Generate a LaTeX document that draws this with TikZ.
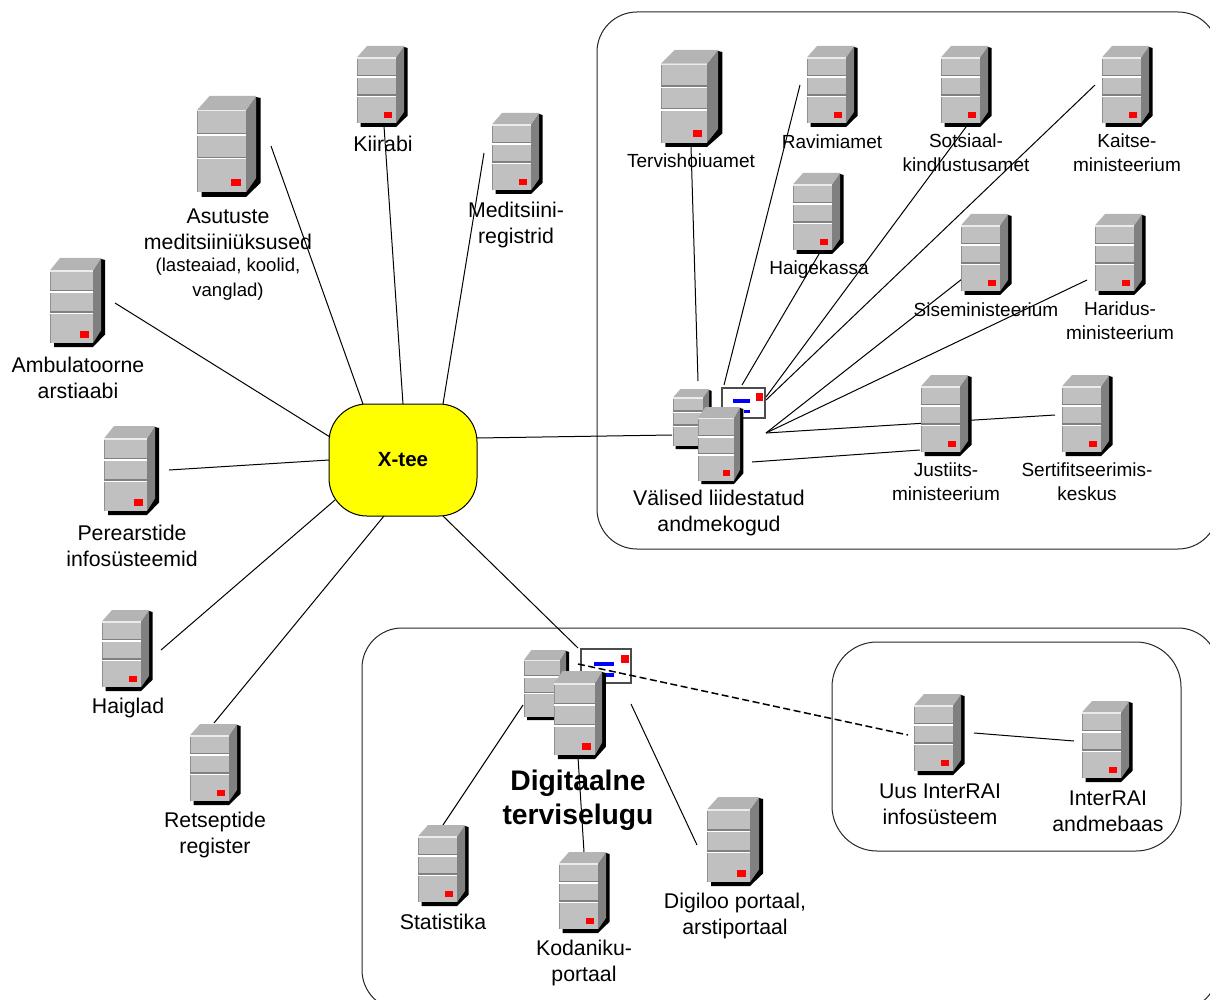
\documentclass[tikz,border=0pt]{standalone}
\usepackage{fontspec}
\setmainfont{Liberation Sans}
\definecolor{srvfront}{HTML}{C0C0C0}
\definecolor{srvtop}{HTML}{B4B4B4}
\definecolor{srvside}{HTML}{808080}
\definecolor{srvedge}{HTML}{909090}
\definecolor{hubfill}{RGB}{255,255,0}
\definecolor{ledred}{RGB}{255,0,0}
\definecolor{barblue}{RGB}{0,0,255}
\tikzset{
  lbl/.style={align=center,inner sep=0pt,font=\fontsize{21.3}{26}\selectfont},
  lblm/.style={align=center,inner sep=0pt,font=\fontsize{19}{24}\selectfont},
  lbls/.style={align=center,inner sep=0pt,font=\fontsize{18.6}{25}\selectfont},
  zone/.style={draw=black!85,line width=1pt,rounded corners=40pt,fill=none},
  link/.style={draw=black,line width=1pt},
}
\def\ledfill{ledred}
% x left, y top, front width, side depth, total height
\newcommand\srv[5]{%
  \begin{scope}[shift={(#1,#2)}]
    \pgfmathsetmacro\W{#3}\pgfmathsetmacro\D{#4}\pgfmathsetmacro\Hh{#5}
    \pgfmathsetmacro\S{0.045*\Hh}
    \pgfmathsetmacro\Top{0.14*\Hh}
    \pgfmathsetmacro\Fh{\Hh-\Top-\S}
    \pgfmathsetmacro\Bot{\Top+\Fh}
    \pgfmathsetmacro\Off{1.25*\D}
    % shadow
    \fill[black] (\W+\D,1) -- (\W+\D+\S,2) -- (\W+\D+\S,\Bot-\Top+\S) -- (\W,\Bot+\S) -- (\S,\Bot+\S) -- (\S,\Bot) -- cycle;
    % side
    \fill[srvside] (\W,\Top) -- (\W+\D,0) -- (\W+\D,\Bot-\Top) -- (\W,\Bot) -- cycle;
    % top
    \fill[srvtop] (0,\Top) -- (\Off,0) -- (\W+\D,0) -- (\W,\Top) -- cycle;
    % front
    \fill[srvfront] (0,\Top) rectangle (\W,\Bot);
    \fill[srvedge] (0,\Top) rectangle (1.2,\Bot);
    \fill[white!92!black] (0,\Top) rectangle (\W,\Top+1.2);
    \pgfmathsetmacro\Da{\Top+0.29*\Fh}\pgfmathsetmacro\Db{\Top+0.58*\Fh}
    \fill[srvside] (0,\Da-1.3) rectangle (\W,\Da);
    \fill[white] (0,\Da) rectangle (\W,\Da+1.6);
    \fill[srvside] (0,\Db-1.3) rectangle (\W,\Db);
    \fill[white] (0,\Db) rectangle (\W,\Db+1.6);
    % led
    \fill[\ledfill] (\W-0.31*\W,\Bot-0.165*\Fh) rectangle (\W-0.10*\W,\Bot-0.075*\Fh);
  \end{scope}}
% x1,y1,x2,y2 card
\newcommand\card[4]{%
  \draw[fill=white,draw=black!70,line width=1.1pt] (#1,#2) rectangle (#3,#4);
  \fill[ledred] ({#3-0.21*(#3-#1)},{#2+0.17*(#4-#2)}) rectangle ({#3-0.05*(#3-#1)},{#2+0.42*(#4-#2)});
  \fill[barblue] ({#1+0.26*(#3-#1)},{#2+0.38*(#4-#2)}) rectangle ({#1+0.65*(#3-#1)},{#2+0.50*(#4-#2)});
  \fill[barblue] ({#1+0.50*(#3-#1)},{#2+0.72*(#4-#2)}) rectangle ({#1+0.65*(#3-#1)},{#2+0.82*(#4-#2)});}
% name, x1,y1,x2,y2
\newcommand\conn[5]{%
  \coordinate (#1a) at (#2,#3);
  \coordinate (#1b) at (#4,#5);
  \draw[link] (#1a) -- (#1b);}
\begin{document}
\begin{tikzpicture}[x=1pt,y=-1pt]
\useasboundingbox (0,0) rectangle (1210,1000);
\begin{scope}
\clip (0,0) rectangle (1210,1000);
\draw[zone] (597,12) rectangle (1218,549);
\draw[zone] (362,628) rectangle (1218,1010);
\draw[zone,rounded corners=45pt] (832,642) rectangle (1181,851);
\end{scope}

% hub
\node[draw=black,line width=1pt,fill=hubfill,rounded corners=38pt,minimum width=148pt,minimum height=112pt,inner sep=0pt,font=\fontsize{20.5}{24}\selectfont\bfseries] (xtee) at (403,460) {X-tee};

% connectors
\conn{l1}{271}{146}{363}{404}
\conn{l2}{384}{126}{403}{404}
\conn{l3}{484}{153}{443}{404}
\conn{l4}{115}{303}{330}{437}
\conn{l5}{169}{470}{329}{460}
\conn{l6}{161}{650}{335}{500}
\conn{l7}{214}{723}{384}{516}
\conn{l8}{477}{438}{672}{435}
\conn{l9}{443}{516}{578}{648}
\conn{r1}{691}{146}{698}{381}
\conn{r2}{800}{85}{724}{385}
\conn{r3}{819}{254}{742}{385}
\conn{r4}{966}{127}{766}{397}
\conn{r5}{1095}{85}{766}{400}
\conn{r6}{962}{279}{766}{433}
\conn{r7}{1087}{280}{766}{433}
\conn{r8}{1055}{415}{766}{433}
\conn{r9}{920}{450}{752}{462}
\conn{d1}{523}{705}{443}{825}
\conn{d2}{578}{757}{584}{852}
\conn{d3}{631}{704}{697}{845}
\conn{d4}{974}{733}{1074}{741}

% servers
\srv{197}{96}{49}{10}{101}
\srv{357}{46}{39}{8}{81}
\srv{492}{113}{39}{8}{81}
\srv{50}{258}{43}{8}{89}
\srv{104}{426}{43}{8}{89}
\srv{102}{610}{39}{8}{81}
\srv{190}{724}{39}{8}{81}
\srv{661}{50}{46}{11}{97}
\srv{807}{46}{39}{8}{81}
\srv{941}{46}{39}{8}{81}
\srv{1102}{46}{39}{8}{81}
\srv{793}{173}{39}{8}{81}
\srv{961}{214}{39}{8}{81}
\srv{1095}{214}{39}{8}{81}
\srv{921}{375}{39}{8}{81}
\srv{1062}{375}{39}{8}{81}
\srv{418}{825}{39}{8}{81}
\srv{559}{852}{39}{8}{81}
\srv{707}{797}{43}{9}{89}
\srv{914}{694}{39}{8}{81}
\srv{1082}{701}{39}{8}{81}
% clusters
\def\ledfill{srvfront}
\srv{673}{389}{30}{6}{60}
\def\ledfill{ledred}
\card{722}{388}{765}{418}
\srv{698}{407}{36}{6}{77}
\def\ledfill{srvfront}
\srv{524}{650}{36}{6}{70}
\def\ledfill{ledred}
\card{581}{649}{631}{683}
\srv{554}{671}{41}{7}{88}

% dashed
\coordinate (dasha) at (578,664);
\coordinate (dashb) at (908,735);
\draw[black,line width=1.5pt,dash pattern=on 7pt off 3.5pt] (dasha) -- (dashb);

% labels
\node[lbl] (t1) at (228,229) {Asutuste\\meditsiiniüksused};
\node[lbls] (t1b) at (228,279) {(lasteaiad, koolid,\\vanglad)};
\node[lbl] (t2) at (383,144) {Kiirabi};
\node[lbl] (t3) at (516,225) {Meditsiini-\\registrid};
\node[lbl] (t4) at (78,378) {Ambulatoorne\\arstiaabi};
\node[lbl] (t5) at (132,546) {Perearstide\\infosüsteemid};
\node[lbl] (t6) at (128,708) {Haiglad};
\node[lbl] (t7) at (215,835) {Retseptide\\register};
\node[lblm] (t8) at (691,161) {Tervishoiuamet};
\node[lblm] (t9) at (832,142) {Ravimiamet};
\node[lblm] (t10) at (966,153) {Sotsiaal-\\kindlustusamet};
\node[lblm] (t11) at (1127,153) {Kaitse-\\ministeerium};
\node[lblm] (t12) at (819,270) {Haigekassa};
\node[lblm] (t13) at (986,310) {Siseministeerium};
\node[lblm] (t14) at (1120,321) {Haridus-\\ministeerium};
\node[lblm] (t15) at (946,482) {Justiits-\\ministeerium};
\node[lblm] (t16) at (1087,482) {Sertifitseerimis-\\keskus};
\node[lbl] (t17) at (719,513) {Välised liidestatud\\andmekogud};
\node[align=center,inner sep=0pt,font=\fontsize{28.3}{34}\selectfont\bfseries] (t18) at (578,800) {Digitaalne\\terviselugu};
\node[lbl] (t19) at (443,922) {Statistika};
\node[lbl] (t20) at (584,963) {Kodaniku-\\portaal};
\node[lbl] (t21) at (735,916) {Digiloo portaal,\\arstiportaal};
\node[lbl] (t22) at (940,804) {Uus InterRAI\\infosüsteem};
\node[lbl] (t23) at (1108,811) {InterRAI\\andmebaas};
\end{tikzpicture}
\end{document}
